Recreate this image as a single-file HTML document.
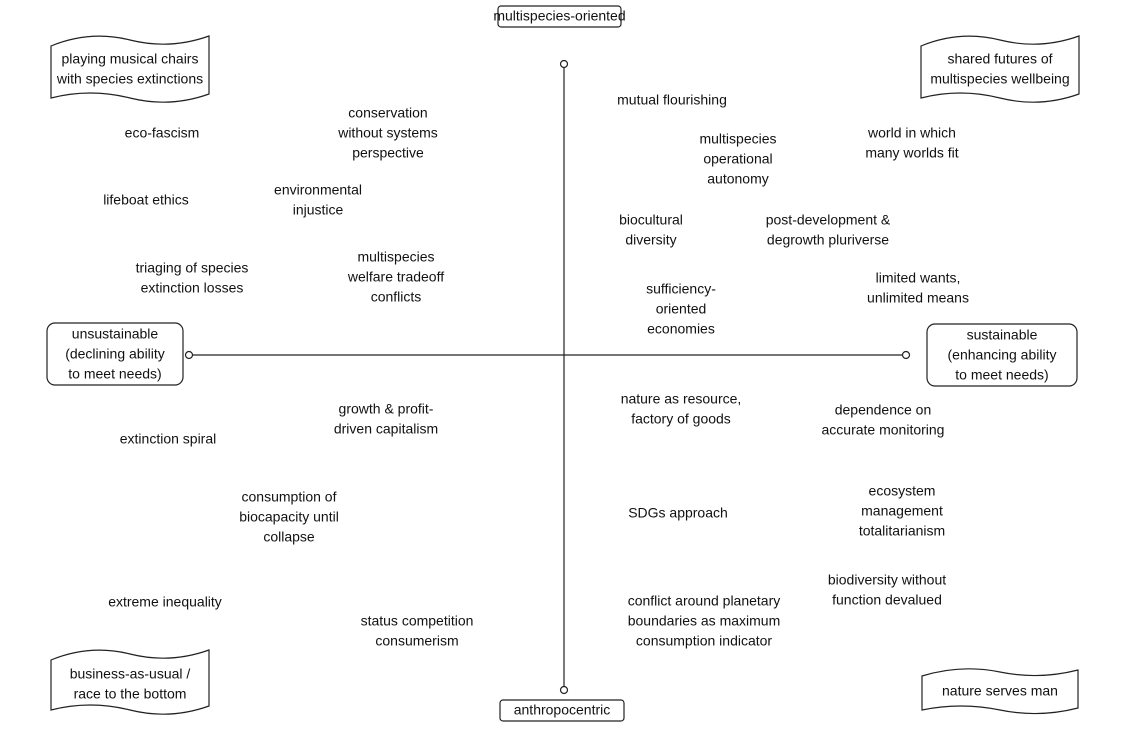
<!DOCTYPE html>
<html><head><style>
html,body{margin:0;padding:0;background:#fff;}
svg{display:block;}
text{font-family:"Liberation Sans",Arial,sans-serif;font-size:14px;fill:#111;text-anchor:middle;dominant-baseline:middle;}
</style></head><body>
<svg width="1128" height="738" viewBox="0 0 1128 738" xmlns="http://www.w3.org/2000/svg">
<g fill="#fff" stroke="#222" stroke-width="1.2">
<path d="M51,46 Q90,30 130,40 T209,36 L209,94 Q170,108 130,98 T51,98 Z"/>
<path d="M921,46 Q960,30 1000,40 T1079,36 L1079,94 Q1040,108 1000,98 T921,98 Z"/>
<path d="M51,660 Q90,644 130,654 T209,650 L209,706 Q170,720 130,710 T51,710 Z"/>
<path d="M922,676 Q961,664 1000,672 T1078,670 L1078,708 Q1039,718 1000,710 T922,710 Z"/>
<rect x="498" y="6" width="123" height="21" rx="3"/>
<rect x="500" y="700" width="124" height="21" rx="3"/>
<rect x="47" y="323" width="136" height="62" rx="8"/>
<rect x="927" y="324" width="150" height="62" rx="8"/>
<line x1="564" y1="68" x2="564" y2="686"/>
<line x1="193" y1="355" x2="902" y2="355"/>
<circle cx="564" cy="64" r="3.5"/>
<circle cx="564" cy="690" r="3.5"/>
<circle cx="189" cy="355" r="3.5"/>
<circle cx="906" cy="355" r="3.5"/>
</g>
<text x="559.5" y="17">multispecies-oriented</text>
<text x="562" y="711">anthropocentric</text>
<text x="115" y="335">unsustainable</text><text x="115" y="355">(declining ability</text><text x="115" y="375">to meet needs)</text>
<text x="1002" y="336">sustainable</text><text x="1002" y="356">(enhancing ability</text><text x="1002" y="376">to meet needs)</text>
<text x="130" y="60">playing musical chairs</text><text x="130" y="80">with species extinctions</text>
<text x="1000" y="60">shared futures of</text><text x="1000" y="80">multispecies wellbeing</text>
<text x="130" y="675">business-as-usual /</text><text x="130" y="695">race to the bottom</text>
<text x="1000" y="692">nature serves man</text>
<text x="388" y="114">conservation</text><text x="388" y="134">without systems</text><text x="388" y="154">perspective</text>
<text x="162" y="134">eco-fascism</text>
<text x="146" y="201">lifeboat ethics</text>
<text x="318" y="191">environmental</text><text x="318" y="211">injustice</text>
<text x="396" y="258">multispecies</text><text x="396" y="278">welfare tradeoff</text><text x="396" y="298">conflicts</text>
<text x="192" y="269">triaging of species</text><text x="192" y="289">extinction losses</text>
<text x="672" y="101">mutual flourishing</text>
<text x="738" y="140">multispecies</text><text x="738" y="160">operational</text><text x="738" y="180">autonomy</text>
<text x="912" y="134">world in which</text><text x="912" y="154">many worlds fit</text>
<text x="651" y="221">biocultural</text><text x="651" y="241">diversity</text>
<text x="828" y="221">post-development &amp;</text><text x="828" y="241">degrowth pluriverse</text>
<text x="681" y="290">sufficiency-</text><text x="681" y="310">oriented</text><text x="681" y="330">economies</text>
<text x="918" y="279">limited wants,</text><text x="918" y="299">unlimited means</text>
<text x="386" y="410">growth &amp; profit-</text><text x="386" y="430">driven capitalism</text>
<text x="168" y="440">extinction spiral</text>
<text x="681" y="400">nature as resource,</text><text x="681" y="420">factory of goods</text>
<text x="883" y="411">dependence on</text><text x="883" y="431">accurate monitoring</text>
<text x="289" y="498">consumption of</text><text x="289" y="518">biocapacity until</text><text x="289" y="538">collapse</text>
<text x="678" y="514">SDGs approach</text>
<text x="902" y="492">ecosystem</text><text x="902" y="512">management</text><text x="902" y="532">totalitarianism</text>
<text x="165" y="603">extreme inequality</text>
<text x="887" y="581">biodiversity without</text><text x="887" y="601">function devalued</text>
<text x="704" y="602">conflict around planetary</text><text x="704" y="622">boundaries as maximum</text><text x="704" y="642">consumption indicator</text>
<text x="417" y="622">status competition</text><text x="417" y="642">consumerism</text>
</svg>
</body></html>
